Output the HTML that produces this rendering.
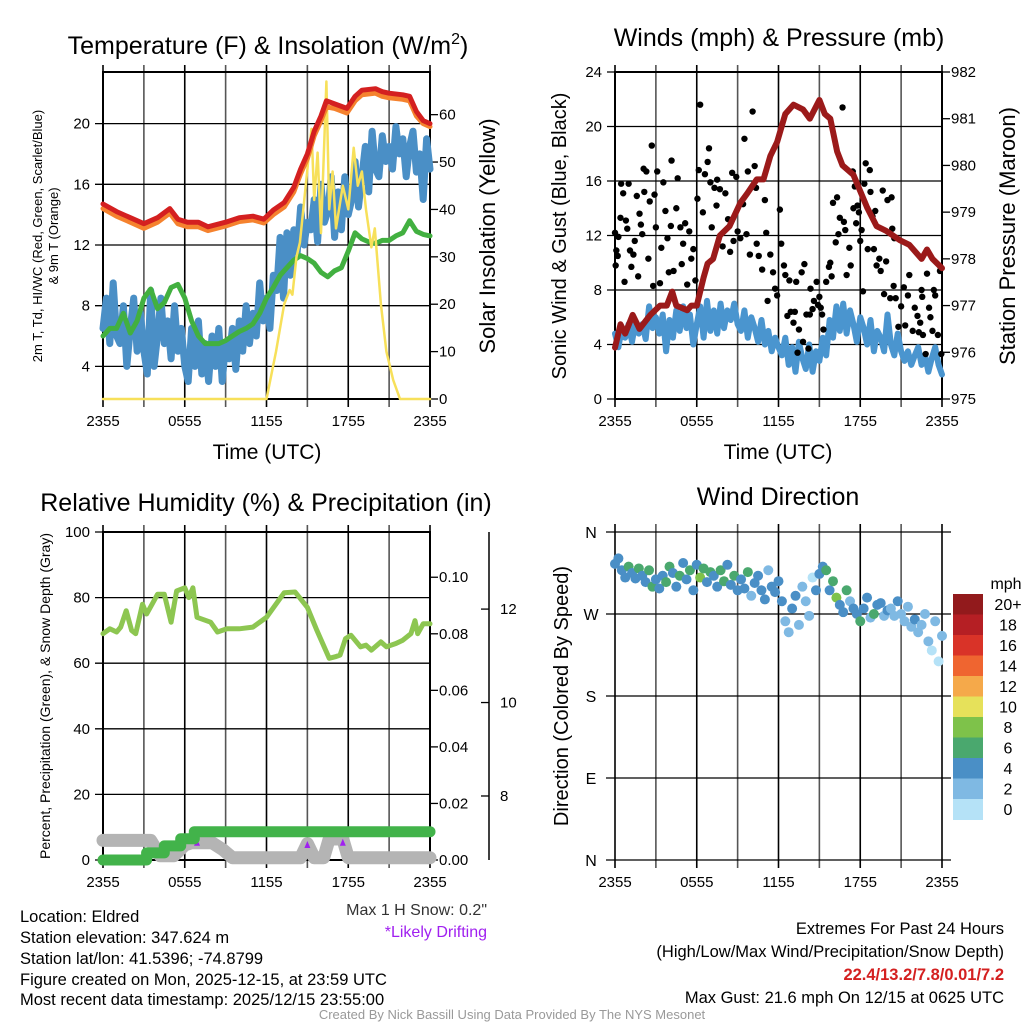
<!DOCTYPE html>
<html><head><meta charset="utf-8"><style>
html,body{margin:0;padding:0;background:#fff;}
svg{display:block;font-family:"Liberation Sans",Arial,sans-serif;}
</style></head><body>
<svg id="chart" width="1024" height="1024" viewBox="0 0 1024 1024" xmlns="http://www.w3.org/2000/svg">
<rect x="0" y="0" width="1024" height="1024" fill="#fff"/>
<text x="268" y="54" font-size="25" text-anchor="middle">Temperature (F) &amp; Insolation (W/m<tspan dy="-10" font-size="16">2</tspan><tspan dy="10">)</tspan></text>
<text x="779" y="46" font-size="25" text-anchor="middle">Winds (mph) &amp; Pressure (mb)</text>
<text x="266" y="511" font-size="25" text-anchor="middle">Relative Humidity (%) &amp; Precipitation (in)</text>
<text x="778" y="505" font-size="25" text-anchor="middle">Wind Direction</text>
<g id="layer"></g>
<text x="487" y="915" font-size="16" text-anchor="end" fill="#333">Max 1 H Snow: 0.2"</text>
<text x="487" y="937" font-size="16" text-anchor="end" fill="#a020f0">*Likely Drifting</text>
<g font-size="16.5">
<text x="20" y="922">Location: Eldred</text>
<text x="20" y="943">Station elevation: 347.624 m</text>
<text x="20" y="964">Station lat/lon: 41.5396; -74.8799</text>
<text x="20" y="985">Figure created on Mon, 2025-12-15, at 23:59 UTC</text>
<text x="20" y="1005">Most recent data timestamp: 2025/12/15 23:55:00</text>
</g>
<g font-size="16.5" text-anchor="end">
<text x="1004" y="934">Extremes For Past 24 Hours</text>
<text x="1004" y="957">(High/Low/Max Wind/Precipitation/Snow Depth)</text>
<text x="1004" y="980" fill="#d42020" font-weight="bold">22.4/13.2/7.8/0.01/7.2</text>
<text x="1004" y="1003">Max Gust: 21.6 mph On 12/15 at 0625 UTC</text>
</g>
<text x="512" y="1019" font-size="13" fill="#999" text-anchor="middle">Created By Nick Bassill Using Data Provided By The NYS Mesonet</text>
</svg>
<script>
// ---------- data ----------
const timeLabels = ["2355","0555","1155","1755","2355"];
const tRedHrs = [0,1,2,3,4,4.9,5.5,6.2,7,7.7,9,10,11,11.8,12.5,13.3,14,14.5,15,15.5,16,16.4,17,17.9,18.5,19,20,20.5,21,22,22.5,23,23.5,24];
const tempRed = [14.7,14.2,13.8,13.4,13.8,14.4,13.7,13.5,13.5,13.2,13.5,13.8,13.9,13.7,14.3,14.8,15.8,17,18,19.5,20.5,21.5,21.3,21.0,21.8,22.2,22.3,22.1,22.0,21.9,21.8,20.8,20.2,20.0];
const temp9mOrange = [14.4,13.9,13.5,13.1,13.5,14.1,13.4,13.2,13.2,12.95,13.25,13.55,13.65,13.45,14.0,14.5,15.5,16.7,17.7,19.2,20.2,21.1,21.0,20.7,21.5,21.9,22.0,21.8,21.7,21.6,21.5,20.5,20.0,19.8];
const dewGreen = [6,6.5,6.5,7.5,6.2,7,8.5,9.1,7.8,8.2,9.2,9.4,8.5,7,6,5.5,5.5,5.5,5.7,6,6.3,6.5,6.8,7.5,8.5,9.2,10,10.5,11,11.3,11.1,10.8,10.2,9.9,10.3,10.5,11.6,12.8,12.4,12.2,12.1,12.3,12.3,12.6,12.8,13.6,12.9,12.7,12.6];
const chillBlue = [6.5,8.5,5.5,9.5,6,5.5,8,4,6.5,8.5,5,7.5,5,
 3.5,9,4,6,8.5,5.5,7,4.5,8,5,6.5,4,
 3,6.5,4,7,3.5,5.5,3,6,4,6.5,3,5.5,
 4.5,6.5,3.8,7,5,8,5.5,7.5,6,9.5,7,8.5,
 6.5,10,9,12.5,8.5,12.8,10,13,11.5,14.5,12,13.5,
 13,15,12.2,16,13.5,14.2,16.5,12.5,15.5,13,16.5,14,
 15,17.5,14.5,16.5,18.5,15.5,19.5,17,16.5,19.2,17.5,18.5,
 17,19.8,18,19,16.5,18.5,19.5,16.8,18,15,19,17];
const solarHrs = [0,12,12.7,13.3,13.7,13.9,14.2,14.45,14.7,15.3,15.5,15.75,16,16.25,16.4,16.6,16.85,17.1,17.6,18,18.4,18.7,19.0,19.3,19.7,19.95,20.4,20.8,21.3,21.8,24];
const solarVals = [0,0,10,20,23,22,30,33,40,57,42,52,35,55,67,40,48,36,45,40,53,45,48,40,32,36,20,10,4,0,0];
const pressHrs = [0,0.4,0.75,1.3,1.8,2.6,3.3,3.8,4.2,4.5,5.3,5.6,6,6.5,6.8,7.2,7.7,8.4,9.2,9.7,10.4,10.9,11.4,11.9,12.5,13.1,13.8,14.3,15,15.4,15.8,16.3,16.7,17.5,18.5,19.2,19.9,20.9,21.6,22.5,22.9,23.3,24];
const pressVals = [976.1,976.6,976.4,976.8,976.5,976.8,977.0,977.0,977.3,977.0,976.9,977.0,977.0,977.6,977.9,978.0,978.5,978.7,979.2,979.4,979.7,979.7,980.2,980.5,981.1,981.3,981.2,981.0,981.4,981.1,981.0,980.3,980.0,979.8,979.1,978.7,978.6,978.4,978.3,978.0,978.2,978.0,977.8];
const windBlue = [4.8,3.8,5.2,4.5,5.5,4.2,5.6,4.8,5.5,4.4,6.8,5.2,6,
 4.8,6.2,3.5,5.8,4.5,6.5,5,6.8,5.2,6.2,4,5.5,
 6.8,4.5,7.2,5,6.5,4.8,7,5.2,6.5,5.8,7,5.5,
 5,6.5,4.5,6,5.2,4.2,5.8,4,5,3.5,4.5,3.8,
 3.2,4.5,2.5,3.8,2,4.2,3,2.2,4,2,3.5,2.8,
 4.5,3.2,5.8,4.5,6.8,5,7,4.8,6.5,5.5,4.2,6,
 5.2,4,5.8,3.5,5,4.5,3.5,6.2,4,3.2,4.8,3.5,
 2.8,3.5,2.5,3.2,3.8,2.5,3.2,2,3,3.8,2.5,1.8];
const gustHrs = [0.0,0.05,0.1,0.2,0.25,0.4,0.45,0.6,0.7,0.8,0.9,1.0,1.1,1.2,1.35,1.45,1.6,1.7,1.8,1.9,2.0,2.1,2.15,2.3,2.45,2.55,2.7,2.8,2.9,3.0,3.1,3.3,3.4,3.55,3.7,3.85,3.95,4.1,4.15,4.3,4.5,4.6,4.8,4.9,5.0,5.15,5.3,5.45,5.6,5.75,5.9,6.05,6.15,6.25,6.45,6.6,6.8,6.9,7.0,7.1,7.3,7.45,7.5,7.7,7.9,8.1,8.3,8.45,8.6,8.7,8.9,9.0,9.2,9.4,9.5,9.65,9.75,9.9,10.1,10.25,10.35,10.4,10.55,10.8,11.0,11.1,11.2,11.4,11.6,11.75,11.9,12.1,12.2,12.4,12.5,12.65,12.8,12.9,13.1,13.2,13.3,13.4,13.5,13.7,13.8,13.9,14.05,14.2,14.3,14.35,14.5,14.6,14.8,14.9,15.0,15.1,15.2,15.3,15.5,15.7,15.8,15.9,16.0,16.2,16.3,16.4,16.5,16.7,16.8,16.9,17.0,17.2,17.3,17.45,17.5,17.6,17.7,17.8,17.9,18.0,18.1,18.2,18.3,18.4,18.55,18.7,18.75,18.9,19.0,19.1,19.2,19.4,19.5,19.65,19.75,19.9,20.0,20.2,20.3,20.35,20.45,20.5,20.6,20.8,21.0,21.2,21.3,21.5,21.6,21.85,22.0,22.2,22.3,22.4,22.5,22.55,22.6,22.8,22.9,23.05,23.15,23.3,23.4,23.5,23.7,23.85,23.95];
const gustVals = [12.2,9.8,10.9,10.5,11.9,13.3,15.8,15.1,8.6,13.1,12.5,15.8,10.9,9.7,10.6,11.6,14.9,9.0,13.6,12.8,12.1,16.9,15.2,16.7,10.3,14.5,18.6,8.3,15.0,12.6,16.7,8.5,11.1,15.9,13.8,11.8,9.3,12.7,17.5,9.4,14.0,16.2,12.6,9.9,11.4,12.9,8.4,12.3,10.3,11.0,8.7,14.7,16.8,21.6,13.7,16.5,17.4,18.4,15.9,12.6,15.5,14.2,16.1,15.4,11.2,15.1,13.2,10.8,16.6,11.6,16.3,12.3,11.8,14.3,19.1,12.1,16.7,10.6,21.1,17.1,15.5,11.4,10.5,9.5,14.6,12.2,7.2,10.6,9.3,8.1,7.6,13.9,11.4,9.8,9.1,6.1,8.7,6.4,5.6,6.4,8.6,3.4,5.1,9.3,4.2,9.9,6.2,3.7,6.2,8.1,6.6,7.2,8.6,6.9,7.5,6.7,6.2,5.1,8.6,9.7,10.0,9.0,14.4,11.5,14.8,12.1,13.3,21.4,13.0,12.4,9.1,11.1,9.8,16.7,14.0,15.6,12.9,14.2,13.7,11.6,12.4,7.9,15.8,17.3,11.0,16.8,15.2,13.4,11.0,13.8,9.8,10.3,9.4,15.3,7.7,10.1,14.6,7.4,14.8,12.5,8.3,11.8,7.4,5.3,6.8,8.2,5.4,7.6,9.1,5.0,6.7,6.1,4.9,5.6,8.0,7.5,4.7,3.3,9.2,6.7,6.0,5.0,8.0,7.6,4.7,9.4,3.3];
const rhHrs = [0,0.5,1,1.3,1.7,2.1,2.4,2.9,3.2,3.6,4,4.5,5,5.4,6,6.3,6.6,6.9,7.9,8.4,9.1,10,11,12,13.3,14.1,15,15.7,16.6,17.1,17.4,17.8,18.2,18.9,19.3,19.7,20.4,20.8,21.5,22,22.6,22.9,23.1,23.5,24];
const rhVals = [69,70.5,69.5,71,76,70,69,78,75,78,81,81,72.5,82,83,80,83,74,72.5,69.5,70.5,70.5,71,74,81.5,81.7,77,70,61.5,62,62.5,67.5,68.5,65,65.5,64,66.5,65,66,67,69,73,69,72,72];
const precipHrs = [0,3.1,3.2,4.4,4.5,5.6,5.7,6.7,24];
const precipVals = [0,0,0.0025,0.0025,0.005,0.005,0.0075,0.01,0.01];
const snowHrs = [0,3.5,4.2,5.2,6,6.5,8,8.8,9.5,12,14.5,15,15.5,16.2,16.6,17.6,18,24];
const snowVals = [7.05,7.05,6.72,6.72,6.95,7.0,7.0,6.85,6.68,6.68,6.68,6.98,6.68,6.68,7.08,7.08,6.68,6.68];
const driftHrs = [6.9,15.0,17.6];
const driftVals = [7.0,6.95,7.0];
const dirDeg = [325,331,318,310,322,315,309,320,312,305,318,300,308,
 298,312,305,322,315,300,312,326,308,318,296,324,
 310,320,305,316,312,300,318,306,324,302,312,296,
 308,298,316,290,304,312,296,286,318,300,294,306,
 284,262,250,276,290,258,300,284,268,310,296,314,
 322,318,296,306,288,280,272,296,284,276,270,262,
 276,288,266,270,280,282,268,274,276,268,284,270,
 262,278,256,264,250,258,270,240,230,262,218,246];
const dirSpeed = [4,5,4,5,6,5,4,6,5,4,7,6,5,
 4,5,6,7,5,4,6,5,4,7,5,4,
 8,6,5,7,5,4,6,7,5,4,6,5,
 5,4,6,3,5,4,5,4,3,5,4,4,
 4,3,2,4,5,3,3,2,3,1,5,4,
 5,6,4,7,8,5,4,6,3,5,4,6,
 5,4,3,6,5,4,3,4,3,2,4,3,
 3,2,3,4,2,3,3,2,1,2,1,3];
const legendLabels = ["20+","18","16","14","12","10","8","6","4","2","0"];
const legendColors = ["#921a1c","#b51f24","#d93328","#ef6530","#f5a94a","#e6e15a","#7ec24a","#4aa86e","#4a8fc6","#7fb9e3","#b5e2f7"];

// ---------- helpers ----------
const NS = "http://www.w3.org/2000/svg";
const layer = document.getElementById("layer");
function el(tag, attrs, parent, name, inter) {
  const e = document.createElementNS(NS, tag);
  for (const k in attrs) e.setAttribute(k, attrs[k]);
  
  
  (parent || layer).appendChild(e);
  return e;
}
function txt(x, y, s, size, anchor, parent, name, extra) {
  const a = Object.assign({x: x, y: y, "font-size": size, "text-anchor": anchor || "middle"}, extra || {});
  const t = el("text", a, parent, name, false);
  t.textContent = s;
  return t;
}
function linear(d0, d1, r0, r1) { return v => r0 + (v - d0) / (d1 - d0) * (r1 - r0); }
function hoursEvery(n, step) { const a = []; for (let i = 0; i < n; i++) a.push(i * step); return a; }
function poly(xs, ys, sx, sy, color, w, parent, name, step) {
  let d = "";
  for (let i = 0; i < xs.length; i++) {
    const X = sx(xs[i]), Y = sy(ys[i]);
    if (i === 0) d += "M" + X.toFixed(1) + "," + Y.toFixed(1);
    else if (step) d += "H" + X.toFixed(1) + "V" + Y.toFixed(1);
    else d += "L" + X.toFixed(1) + "," + Y.toFixed(1);
  }
  return el("path", {d: d, fill: "none", stroke: color, "stroke-width": w, "stroke-linejoin": "round", "stroke-linecap": "round"}, parent, name, false);
}

function panelFrame(g, L, R, T, B, hTicks, sy, leftLabels, boxed) {
  const sx = linear(0, 24, L, R);
  for (let h = 0; h <= 24; h += 3) {
    const X = sx(h);
    el("line", {x1: X, x2: X, y1: T - 7, y2: B + 8, stroke: (h % 6 === 0) ? "#000" : "#555", "stroke-width": 1.6}, g, "vertical-gridline", false);
  }
  hTicks.forEach((v, i) => {
    const Y = sy(v);
    el("line", {x1: L - 8, x2: R + (boxed ? 0 : 8), y1: Y, y2: Y, stroke: "#000", "stroke-width": 1.3}, g, "horizontal-gridline", false);
    txt(L - 13, Y + 5, leftLabels[i], 15, "end", g, "left-tick-label");
  });
  if (boxed) el("rect", {x: L, y: T, width: R - L, height: B - T, fill: "none", stroke: "#000", "stroke-width": 2}, g, "plot-frame", false);
  timeLabels.forEach((s, i) => txt(sx(i * 6), B + 27, s, 15, "middle", g, "time-tick-label"));
  return sx;
}

// ---------- Panel 1: temperature ----------
(function () {
  const g = el("g", {}, layer, "temperature-panel", false);
  const L = 103, R = 430, T = 72, B = 399;
  const sy = linear(1.85, 23.4, B, T);
  const sx = panelFrame(g, L, R, T, B, [4, 8, 12, 16, 20], sy, ["4", "8", "12", "16", "20"], true);
  const sy2 = linear(0, 69, B, T);
  [0, 10, 20, 30, 40, 50, 60].forEach(v => {
    el("line", {x1: R, x2: R + 8, y1: sy2(v), y2: sy2(v), stroke: "#000", "stroke-width": 1.3}, g, "right-tick", false);
    txt(R + 9, sy2(v) + 5, String(v), 15, "start", g, "right-tick-label");
  });
  poly(hoursEvery(chillBlue.length, 0.25), chillBlue, sx, sy, "#4a8fc6", 7, g, "windchill-line-blue");
  poly(hoursEvery(dewGreen.length, 0.5), dewGreen, sx, sy, "#42b040", 5, g, "dewpoint-line-green");
  poly(solarHrs, solarVals, sx, sy2, "#f7e05a", 2.5, g, "solar-insolation-line");
  poly(tRedHrs, temp9mOrange, sx, sy, "#f5822e", 5, g, "temp-9m-line-orange");
  poly(tRedHrs, tempRed, sx, sy, "#d42020", 5, g, "temp-2m-line-red");
  txt(267, 459, "Time (UTC)", 21, "middle", g, "x-axis-title");
  txt(0, 0, "Solar Insolation (Yellow)", 22, "middle", g, "right-axis-title", {transform: "translate(495,236) rotate(-90)"});
  txt(0, 0, "2m T, Td, HI/WC (Red, Green, Scarlet/Blue)", 13, "middle", g, "left-axis-title-line1", {transform: "translate(42,236) rotate(-90)"});
  txt(0, 0, "& 9m T (Orange)", 13, "middle", g, "left-axis-title-line2", {transform: "translate(58,236) rotate(-90)"});
})();

// ---------- Panel 2: winds ----------
(function () {
  const g = el("g", {}, layer, "winds-panel", false);
  const L = 615, R = 942, T = 72, B = 399;
  const sy = linear(0, 24, B, T);
  const sx = panelFrame(g, L, R, T, B, [0, 4, 8, 12, 16, 20, 24], sy, ["0", "4", "8", "12", "16", "20", "24"], true);
  const sy2 = linear(975, 982, B, T);
  [975, 976, 977, 978, 979, 980, 981, 982].forEach(v => {
    el("line", {x1: R, x2: R + 8, y1: sy2(v), y2: sy2(v), stroke: "#000", "stroke-width": 1.3}, g, "right-tick", false);
    txt(R + 9, sy2(v) + 5, String(v), 15, "start", g, "right-tick-label");
  });
  poly(hoursEvery(windBlue.length, 0.25), windBlue, sx, sy, "#4a95cf", 6, g, "sonic-wind-line-blue");
  gustHrs.forEach((h, i) => {
    el("circle", {cx: sx(h), cy: sy(gustVals[i]), r: 3.2, fill: "#000"}, g, "gust-point", false);
  });
  poly(pressHrs, pressVals, sx, sy2, "#9b1a1a", 6, g, "pressure-line-maroon");
  txt(778, 459, "Time (UTC)", 21, "middle", g, "x-axis-title");
  txt(0, 0, "Sonic Wind & Gust (Blue, Black)", 20, "middle", g, "left-axis-title", {transform: "translate(566,236) rotate(-90)"});
  txt(0, 0, "Station Pressure (Maroon)", 22, "middle", g, "right-axis-title", {transform: "translate(1015,236) rotate(-90)"});
})();

// ---------- Panel 3: humidity ----------
(function () {
  const g = el("g", {}, layer, "humidity-panel", false);
  const L = 103, R = 430, T = 532, B = 860;
  const sy = linear(0, 100, B, T);
  const sx = panelFrame(g, L, R, T, B, [0, 20, 40, 60, 80, 100], sy, ["0", "20", "40", "60", "80", "100"], true);
  const sy2 = linear(0, 0.116, B, T);
  [0, 0.02, 0.04, 0.06, 0.08, 0.10].forEach(v => {
    el("line", {x1: R, x2: R + 8, y1: sy2(v), y2: sy2(v), stroke: "#000", "stroke-width": 1.3}, g, "right-tick", false);
    txt(R + 9, sy2(v) + 5, v.toFixed(2), 15, "start", g, "precip-tick-label");
  });
  const sy3 = linear(6.63, 13.65, B, T);
  el("line", {x1: 489, x2: 489, y1: T, y2: B, stroke: "#000", "stroke-width": 1.5}, g, "snow-axis-line", false);
  [8, 10, 12].forEach(v => {
    el("line", {x1: 489, x2: 481, y1: sy3(v), y2: sy3(v), stroke: "#000", "stroke-width": 1.3}, g, "snow-tick", false);
    txt(500, sy3(v) + 5, String(v), 15, "start", g, "snow-tick-label");
  });
  poly(snowHrs, snowVals, sx, sy3, "#b4b4b4", 13, g, "snow-depth-line-gray");
  driftHrs.forEach((h, i) => {
    el("path", {d: "M" + (sx(h) - 3) + "," + (sy3(driftVals[i]) + 3) + "l3,-7l3,7z", fill: "#a020f0"}, g, "drifting-marker", false);
  });
  poly(precipHrs, precipVals, sx, sy2, "#42b34a", 11, g, "precipitation-line-green", true);
  poly(rhHrs, rhVals, sx, sy, "#8dc651", 5, g, "relative-humidity-line");
  txt(0, 0, "Percent, Precipitation (Green), & Snow Depth (Gray)", 14, "middle", g, "left-axis-title", {transform: "translate(50,696) rotate(-90)"});
})();

// ---------- Panel 4: wind direction ----------
(function () {
  const g = el("g", {}, layer, "wind-direction-panel", false);
  const L = 615, R = 942, T = 532, B = 860;
  const sy = linear(0, 360, B, T);
  const sx = linear(0, 24, L, R);
  for (let h = 0; h <= 24; h += 3) {
    el("line", {x1: sx(h), x2: sx(h), y1: T - 8, y2: B + 8, stroke: (h % 6 === 0) ? "#000" : "#555", "stroke-width": 1.6}, g, "vertical-gridline", false);
  }
  const dirLabels = ["N", "E", "S", "W", "N"];
  [0, 90, 180, 270, 360].forEach((v, i) => {
    el("line", {x1: L - 9, x2: R + 9, y1: sy(v), y2: sy(v), stroke: "#000", "stroke-width": 1.3}, g, "horizontal-gridline", false);
    txt(591, sy(v) + 6, dirLabels[i], 16, "middle", g, "direction-tick-label");
  });
  timeLabels.forEach((s, i) => txt(sx(i * 6), B + 27, s, 15, "middle", g, "time-tick-label"));
  dirDeg.forEach((d, i) => {
    const s = dirSpeed[i];
    const bin = Math.min(10, Math.floor(s / 2));
    el("circle", {cx: sx(i * 0.25), cy: sy(d), r: 5, fill: legendColors[10 - bin]}, g, "direction-point", false);
  });
  txt(0, 0, "Direction (Colored By Speed)", 20, "middle", g, "left-axis-title", {transform: "translate(568,696) rotate(-90)"});
  txt(1006, 589, "mph", 16, "middle", g, "legend-title");
  legendLabels.forEach((lab, i) => {
    const y0 = 594 + i * 20.5;
    el("rect", {x: 953, y: y0, width: 30, height: 21, fill: legendColors[i]}, g, "legend-swatch", false);
    txt(1008, y0 + 16, lab, 16, "middle", g, "legend-label");
  });
})();
</script>
</body></html>
